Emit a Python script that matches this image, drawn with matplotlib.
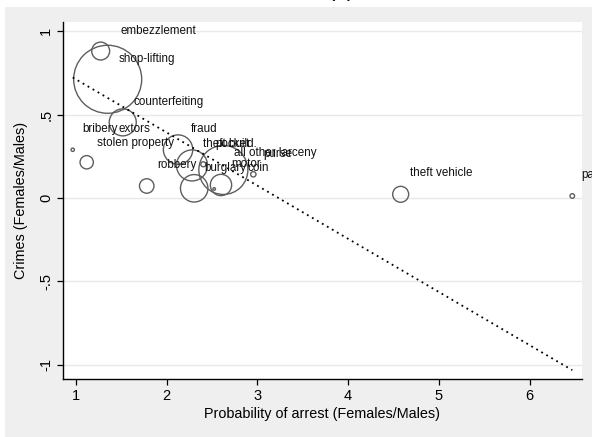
import numpy as np
import matplotlib
matplotlib.use("Agg")
import matplotlib.pyplot as plt
from matplotlib.patches import Rectangle

plt.rcParams["font.family"] = ["Liberation Sans", "DejaVu Sans"]

# Female/male ratios by offence: probability of arrest (x) and crimes (y);
# weight is the offence's share of arrests (%), used for marker area.
arrest_ratio = [1.275, 1.352, 1.518, 0.967, 1.121, 1.782, 2.127, 2.281,
                2.305, 2.626, 2.600, 2.525, 2.405, 2.956, 4.579, 6.469]
crime_ratio = [0.880, 0.711, 0.453, 0.289, 0.214, 0.072, 0.290, 0.195,
               0.058, 0.168, 0.078, 0.054, 0.202, 0.142, 0.022, 0.012]
weight = [2.9, 41.8, 6.6, 0.10, 1.6, 1.9, 7.8, 8.7,
          6.8, 21.7, 4.1, 0.06, 0.23, 0.26, 2.3, 0.19]

# Offence labels and where each one is written (data coordinates)
label_names = ["embezzlement", "shop-lifting", "counterfeiting", "bribery",
               "extors", "stolen property", "fraud", "theft build.", "pocket",
               "all other larceny", "purse", "robbery", "burglary", "motor",
               "coin", "theft vehicle", "parking"]
label_x = [1.496, 1.477, 1.631, 1.077, 1.466, 1.238, 2.266, 2.399, 2.534,
           2.743, 3.066, 1.895, 2.415, 2.713, 2.890, 4.682, 6.573]
label_y = [1.000, 0.834, 0.575, 0.413, 0.413, 0.331, 0.411, 0.323, 0.323,
           0.271, 0.262, 0.198, 0.180, 0.205, 0.178, 0.148, 0.138]

# Weighted linear fit: crimes = intercept + slope * arrest
fit_intercept = 1.030
fit_slope = -0.3186

x_ticks = [1, 2, 3, 4, 5, 6]
y_ticks = [-1, -0.5, 0, 0.5, 1]
y_tick_labels = ["-1", "-.5", "0", ".5", "1"]

W, H, DPI = 592, 437, 100
fig = plt.figure(figsize=(W / DPI, H / DPI), dpi=DPI, facecolor="white")

# light grey graph region behind the plot
fig.patches.append(Rectangle((5 / W, 0), 1 - 5 / W, (H - 7) / H,
                             transform=fig.transFigure, facecolor="#efefef",
                             edgecolor="none", zorder=-5))

ax = fig.add_axes([63 / W, 1 - 379 / H, (582 - 63) / W, (379 - 22) / H])
ax.set_zorder(2)
ax.set_facecolor("white")

ax.set_xlim(0.86, 6.576)
ax.set_ylim(-1.084, 1.054)

for yt in y_ticks:
    ax.axhline(yt, color="#e8e8e8", lw=1.0, zorder=1)

xs = np.array(arrest_ratio)
ys = np.array(crime_ratio)
ws = np.array(weight)
ax.scatter(xs, ys, s=ws * 57.4, facecolors="none", edgecolors="#5e5e5e",
           linewidths=1.0, zorder=3)

xfit = np.array([xs.min(), xs.max()])
ax.plot(xfit, fit_intercept + fit_slope * xfit, color="black",
        linestyle=(0, (1, 2.2)), lw=1.3, zorder=4)

for name, lx, ly in zip(label_names, label_x, label_y):
    ax.text(lx, ly, name, fontsize=8.4, ha="left", va="center",
            color="#111111", zorder=5, clip_on=False)

ax.set_xticks(x_ticks)
ax.set_yticks(y_ticks)
ax.set_yticklabels(y_tick_labels, rotation=90, va="center")
ax.tick_params(axis="both", direction="out", length=4, width=0.9,
               labelsize=10.5, colors="black", pad=3)

for side in ("top", "right"):
    ax.spines[side].set_visible(False)
for side in ("left", "bottom"):
    ax.spines[side].set_linewidth(1.0)
    ax.spines[side].set_color("black")

ax.set_xlabel("Probability of arrest (Females/Males)", fontsize=10.4,
              labelpad=3)
ax.set_ylabel("Crimes (Females/Males)", fontsize=10.4, labelpad=8)

fig.text(341 / W, 1 + 4 / H, "(a)", fontsize=16, ha="center", va="baseline")

fig.savefig("out.png", dpi=DPI)
